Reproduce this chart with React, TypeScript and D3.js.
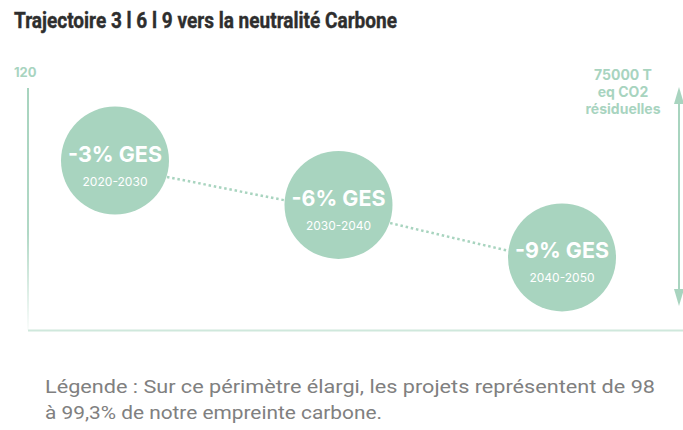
import React from "react";
import * as d3 from "d3";

const periods = ["2020-2030", "2030-2040", "2040-2050"];
const reductionLabels = ["-3% GES", "-6% GES", "-9% GES"];
const emissionLevels = [84, 62, 36];
const yTickLabels = ["120"];
const yMax = 120;
const residualLines = ["75000 T", "eq CO2", "résiduelles"];
const titleText = "Trajectoire 3 l 6 l 9 vers la neutralité Carbone";
const legendLines = [
  "Légende : Sur ce périmètre élargi, les projets représentent de 98",
  "à 99,3% de notre empreinte carbone.",
];

const W = 683;
const H = 430;
const GREEN = "#a8d4bf";
const FONT = "Inter, 'Open Sans', sans-serif";
const FONT2 = "Roboto, 'Liberation Sans', sans-serif";

export default function App() {
  const x = d3.scaleLinear().domain([0, periods.length - 1]).range([115, 562]);
  const y = d3.scaleLinear().domain([0, yMax]).range([330, 88]);
  const r = 54;
  const pts = periods.map((p, i) => [x(i), y(emissionLevels[i])] as [number, number]);
  const line = d3.line<[number, number]>().x((d) => d[0]).y((d) => d[1] + 6);

  return (
    <svg
      width={W}
      height={H}
      style={{ position: "absolute", left: 0, top: 0, background: "#fff" }}
      fontFamily={FONT}
    >
      <defs>
        <linearGradient id="axisFade" x1="0" y1="0" x2="0" y2="1">
          <stop offset="0%" stopColor={GREEN} stopOpacity={1} />
          <stop offset="60%" stopColor={GREEN} stopOpacity={0.9} />
          <stop offset="100%" stopColor={GREEN} stopOpacity={0.05} />
        </linearGradient>
      </defs>

      <text
        x={14}
        y={28}
        fontSize={22.5}
        fontWeight={700}
        fontFamily={FONT2}
        fill="#2e2e2e"
        stroke="#2e2e2e"
        strokeWidth={0.4}
        textLength={383}
        lengthAdjust="spacingAndGlyphs"
      >
        {titleText}
      </text>

      {/* Y axis */}
      <rect x={27} y={y(yMax)} width={2} height={y(0) - y(yMax)} fill="url(#axisFade)" />
      {yTickLabels.map((t) => (
        <text key={t} x={14} y={77} fontSize={13} fontWeight={700} fill={GREEN}>
          {t}
        </text>
      ))}

      {/* X axis */}
      <line x1={28} x2={W} y1={330.5} y2={330.5} stroke="#cfe8dc" strokeWidth={2} />

      {/* right arrow */}
      <line x1={679} x2={679} y1={100} y2={292} stroke={GREEN} strokeWidth={2} />
      <path d="M679,87 L674,104 L684,104 Z" fill={GREEN} />
      <path d="M679,306 L674,289 L684,289 Z" fill={GREEN} />
      {residualLines.map((t, i) => (
        <text
          key={t}
          x={623}
          y={80 + i * 17}
          fontSize={14}
          fontWeight={700}
          fill={GREEN}
          textAnchor="middle"
        >
          {t}
        </text>
      ))}

      {/* dotted trajectory */}
      <path
        d={line(pts) || ""}
        fill="none"
        stroke={GREEN}
        strokeWidth={2.5}
        strokeDasharray="2.5 2.8"
      />

      {pts.map(([cx, cy], i) => (
        <g key={periods[i]}>
          <circle cx={cx} cy={cy} r={r} fill={GREEN} />
          <text
            x={cx}
            y={cy + 1}
            fontSize={22}
            fontWeight={700}
            fill="#fff"
            textAnchor="middle"
            textLength={94}
            lengthAdjust="spacingAndGlyphs"
          >
            {reductionLabels[i]}
          </text>
          <text
            x={cx}
            y={cy + 25}
            fontSize={12}
            fill="#fff"
            textAnchor="middle"
            textLength={65}
            lengthAdjust="spacingAndGlyphs"
          >
            {periods[i]}
          </text>
        </g>
      ))}

      {legendLines.map((t, i) => (
        <text
          key={i}
          x={45}
          y={393 + i * 26}
          fontSize={18}
          fontFamily={FONT2}
          fill="#808080"
          textLength={i === 0 ? 610 : 337}
          lengthAdjust="spacingAndGlyphs"
        >
          {t}
        </text>
      ))}
    </svg>
  );
}
